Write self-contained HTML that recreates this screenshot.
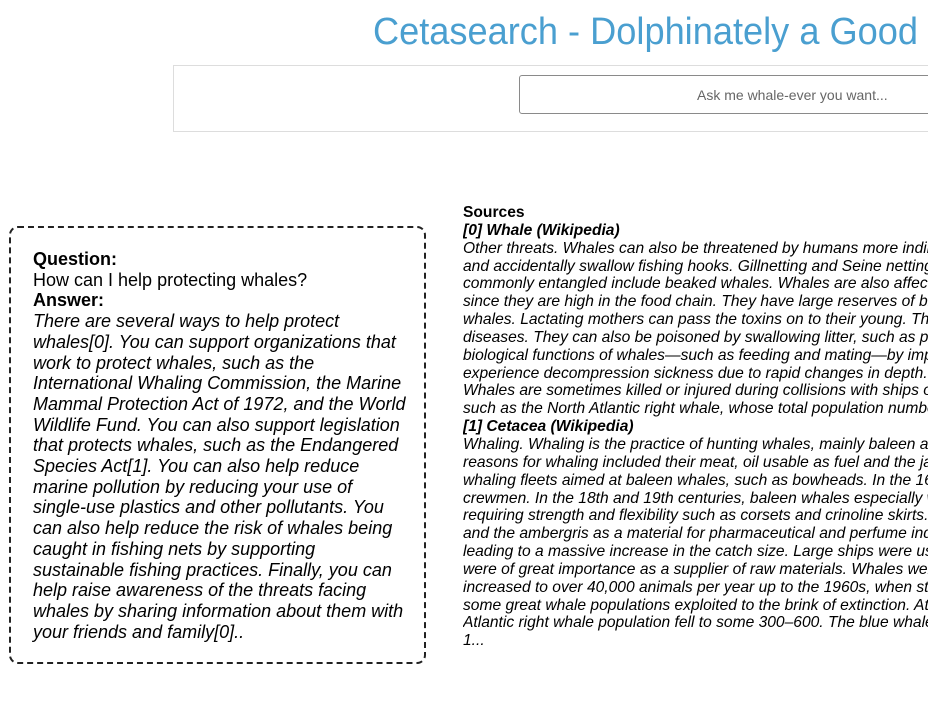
<!DOCTYPE html>
<html><head><meta charset="utf-8">
<style>
html,body{margin:0;padding:0;width:928px;height:728px;overflow:hidden;background:#fff;font-family:"Liberation Sans",Arial,sans-serif;color:#000}
#wrap{position:relative;width:928px;height:728px;overflow:hidden}
.abs{position:absolute}
#title{left:373px;top:0px;width:555px;height:60px}
#panel{left:173px;top:65px;width:760px;height:67px;border:1px solid #ddd;box-sizing:border-box}
#search{left:519px;top:75px;width:420px;height:39px;border:1px solid #8a8a8a;border-radius:3px;box-sizing:border-box}
#ph{left:697px;top:87px;font-size:14px;color:#666;white-space:nowrap}
#qa{left:9px;top:226px;width:417px;height:438px;border:2px dashed #222;border-radius:9px;box-sizing:border-box}
#qatext{left:33px;top:249px;font-size:18px;line-height:20.7px;white-space:nowrap}
#src{left:463px;top:204px;width:465px;overflow:hidden;font-size:15.6px;line-height:17.85px;white-space:nowrap}
i{font-style:italic}
</style></head><body><div id="wrap">
<svg id="title" class="abs" width="555" height="60"><text x="0" y="44" font-family="Liberation Sans, sans-serif" font-size="38" fill="#4a9fd0" textLength="545" lengthAdjust="spacingAndGlyphs">Cetasearch - Dolphinately a Good</text></svg>
<div id="panel" class="abs"></div>
<div id="search" class="abs"></div>
<div id="ph" class="abs">Ask me whale-ever you want...</div>
<div id="qa" class="abs"></div>
<div id="qatext" class="abs">
<b>Question:</b><br>
How can I help protecting whales?<br>
<b>Answer:</b><br>
<i>There are several ways to help protect<br>
whales[0]. You can support organizations that<br>
work to protect whales, such as the<br>
International Whaling Commission, the Marine<br>
Mammal Protection Act of 1972, and the World<br>
Wildlife Fund. You can also support legislation<br>
that protects whales, such as the Endangered<br>
Species Act[1]. You can also help reduce<br>
marine pollution by reducing your use of<br>
single-use plastics and other pollutants. You<br>
can also help reduce the risk of whales being<br>
caught in fishing nets by supporting<br>
sustainable fishing practices. Finally, you can<br>
help raise awareness of the threats facing<br>
whales by sharing information about them with<br>
your friends and family[0]..</i>
</div>
<div id="src" class="abs">
<b>Sources</b><br>
<b><i>[0] Whale (Wikipedia)</i></b><br>
<i>Other threats. Whales can also be threatened by humans more indirectly<br>
and accidentally swallow fishing hooks. Gillnetting and Seine netting<br>
commonly entangled include beaked whales. Whales are also affected<br>
since they are high in the food chain. They have large reserves of blubber<br>
whales. Lactating mothers can pass the toxins on to their young. These<br>
diseases. They can also be poisoned by swallowing litter, such as plastic<br>
biological functions of whales—such as feeding and mating—by impairing<br>
experience decompression sickness due to rapid changes in depth.<br>
Whales are sometimes killed or injured during collisions with ships or<br>
such as the North Atlantic right whale, whose total population numbers<br></i>
<b><i>[1] Cetacea (Wikipedia)</i></b><br>
<i>Whaling. Whaling is the practice of hunting whales, mainly baleen and<br>
reasons for whaling included their meat, oil usable as fuel and the jaw<br>
whaling fleets aimed at baleen whales, such as bowheads. In the 16th<br>
crewmen. In the 18th and 19th centuries, baleen whales especially were<br>
requiring strength and flexibility such as corsets and crinoline skirts. In<br>
and the ambergris as a material for pharmaceutical and perfume industry<br>
leading to a massive increase in the catch size. Large ships were used<br>
were of great importance as a supplier of raw materials. Whales were<br>
increased to over 40,000 animals per year up to the 1960s, when stocks<br>
some great whale populations exploited to the brink of extinction. At<br>
Atlantic right whale population fell to some 300–600. The blue whale<br>
1...</i>
</div>
</div></body></html>
